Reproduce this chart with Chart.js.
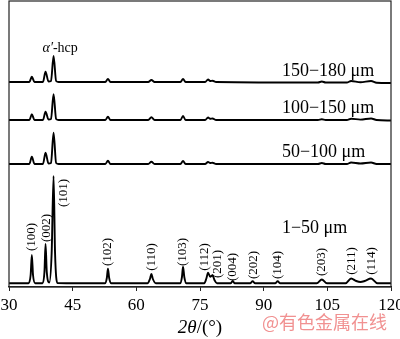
<!DOCTYPE html>
<html>
<head>
<meta charset="utf-8">
<script src="https://cdn.jsdelivr.net/npm/chart.js@4.4.1/dist/chart.umd.min.js"></script>
<style>
html,body{margin:0;padding:0;background:#fff;}
#wrap{width:400px;height:339px;position:relative;}
</style>
</head>
<body>
<div id="wrap"><canvas id="c" width="400" height="339"></canvas></div>
<script>
// ---- data (2θ in degrees, intensity in arbitrary units incl. vertical offset) ----
const xTicks = [30, 45, 60, 75, 90, 105, 120];

const angles_1_50 = [30, 34.6, 35.1, 35.38, 35.66, 36.2, 37.9, 38.35, 38.61, 38.9, 39.5, 40.05, 40.5, 40.85, 41.4,
  52.6, 53.05, 53.31, 53.6, 54.1, 62.6, 63.2, 63.55, 63.9, 64.6, 70.3, 70.75, 71.0, 71.3, 71.8,
  76.0, 76.5, 76.9, 77.4, 77.95, 78.4, 79.0, 82.2, 82.7, 83.2, 86.8, 87.4, 88.0, 92.7, 93.3, 93.9,
  102.5, 103.7, 104.9, 109.3, 110.6, 111.8, 112.8, 113.8, 115.3, 116.8, 120];
const inten_1_50 = [3.7, 3.7, 12, 32, 12, 3.7, 3.7, 15, 43, 15, 4.5, 34, 111, 34, 4,
  3.7, 9, 18.3, 9, 3.7, 3.7, 8, 13, 8, 3.7, 3.7, 10, 20.3, 10, 3.7,
  3.7, 8.5, 14.3, 10.3, 11.7, 7, 3.7, 3.7, 6, 3.7, 3.7, 5.7, 3.7, 3.7, 5.7, 3.7,
  3.7, 7.5, 3.7, 3.7, 8.5, 6, 5, 6, 8.5, 3.7, 3.7];

const angles_50_100 = [30, 34.8, 35.38, 36.0, 38.0, 38.61, 39.3, 39.9, 40.5, 41.1, 41.7,
  52.7, 53.31, 53.9, 62.8, 63.55, 64.3, 70.4, 71.0, 71.6, 76.2, 76.9, 77.4, 77.95, 78.8,
  102.8, 103.7, 104.6, 109.6, 110.6, 112.8, 115.3, 116.6, 120];
const inten_50_100 = [123, 123, 130.3, 123, 123, 134.3, 123.5, 124, 154.3, 124, 123,
  123, 126.3, 123, 123, 125.3, 123, 123, 126, 123, 123, 125, 124, 124.3, 123,
  123, 124, 123, 123, 124.5, 123.5, 124.5, 123, 123];

const angles_100_150 = [30, 34.8, 35.38, 36.0, 38.0, 38.61, 39.3, 39.9, 40.5, 41.1, 41.7,
  52.7, 53.31, 53.9, 62.8, 63.55, 64.3, 70.4, 71.0, 71.6, 76.2, 76.9, 77.4, 77.95, 78.8,
  102.8, 103.7, 104.6, 109.6, 110.6, 112.8, 115.3, 116.6, 120];
const inten_100_150 = [167, 167, 172.7, 167, 167, 175.3, 167.5, 168, 192.7, 168, 167,
  167, 170.3, 167, 167, 169.7, 167, 167, 171, 167, 167, 169.5, 168.2, 168.5, 167,
  167, 167.8, 167, 167, 168.3, 167.4, 168.5, 167, 166.5];

const angles_150_180 = [30, 34.8, 35.38, 36.0, 38.0, 38.61, 39.3, 39.9, 40.5, 41.1, 41.7,
  52.7, 53.31, 53.9, 62.8, 63.55, 64.3, 70.4, 71.0, 71.6, 76.2, 76.9, 77.4, 77.95, 78.8,
  102.8, 103.7, 104.6, 109.6, 110.6, 112.8, 115.3, 116.6, 120];
const inten_150_180 = [205, 205, 210.3, 205, 205, 215.3, 205.5, 206, 231, 206, 205,
  205, 208, 205, 205, 207, 205, 205, 208, 205, 205, 207.5, 206, 206.3, 205,
  204.5, 205.5, 204.5, 204.5, 206, 204.8, 206, 204.3, 204];

// sample labels: text, 2θ, intensity of baseline
const sampleLabels = ['150\u2212180 \u03bcm', '100\u2212150 \u03bcm', '50\u2212100 \u03bcm', '1\u221250 \u03bcm'];
const sampleLabelAngle = [94.3, 94.3, 94.3, 94.3];
const sampleLabelLevel = [211, 174, 130, 54];

// reflection labels (hkl), 2θ position and vertical centre
const hklLabels = ['(100)', '(002)', '(101)', '(102)', '(110)', '(103)', '(112)', '(201)', '(004)', '(202)', '(104)', '(203)', '(211)', '(114)'];
const hklAngle = [35.3, 38.85, 42.9, 53.25, 63.6, 70.9, 76.1, 79.2, 82.7, 87.7, 93.3, 103.7, 110.8, 115.5];
const hklLevel = [50, 59, 94, 35, 30, 35, 30, 23, 20, 22, 22, 25, 26, 26];

function pts(a, b) { return a.map((v, i) => ({ x: v, y: b[i] })); }

const serif = "'Liberation Serif','Times New Roman',serif";

const framePlugin = {
  id: 'frame',
  afterDraw(chart) {
    const { ctx, chartArea: a, scales } = chart;
    const xs = scales.x, ys = scales.y;
    ctx.save();
    ctx.strokeStyle = '#222';
    ctx.lineWidth = 1.2;
    ctx.strokeRect(a.left, a.top, a.right - a.left, a.bottom - a.top);

    ctx.fillStyle = '#000';
    // sample labels
    ctx.font = '18px ' + serif;
    ctx.textAlign = 'left';
    ctx.textBaseline = 'alphabetic';
    sampleLabels.forEach((t, i) => {
      ctx.fillText(t, xs.getPixelForValue(sampleLabelAngle[i]), ys.getPixelForValue(sampleLabelLevel[i]));
    });

    // alpha'-hcp
    const ax = xs.getPixelForValue(37.9), ay = ys.getPixelForValue(235);
    ctx.font = 'italic 14px ' + serif;
    ctx.fillText('\u03b1\u2032', ax, ay);
    const w1 = ctx.measureText('\u03b1\u2032').width;
    ctx.font = '14px ' + serif;
    ctx.fillText('-hcp', ax + w1, ay);

    // hkl labels rotated
    ctx.font = '13px ' + serif;
    ctx.textAlign = 'center';
    ctx.textBaseline = 'middle';
    hklLabels.forEach((t, i) => {
      ctx.save();
      ctx.translate(xs.getPixelForValue(hklAngle[i]), ys.getPixelForValue(hklLevel[i]));
      ctx.rotate(-Math.PI / 2);
      ctx.fillText(t, 0, 0);
      ctx.restore();
    });

    // axis title 2θ/(°)
    ctx.textBaseline = 'alphabetic';
    ctx.textAlign = 'left';
    ctx.font = 'italic 19px ' + serif;
    const p1 = '2\u03b8';
    const p1w = ctx.measureText(p1).width;
    ctx.font = '19px ' + serif;
    const p2 = '/(\u00b0)';
    const p2w = ctx.measureText(p2).width;
    const cx = (a.left + a.right) / 2 - (p1w + p2w) / 2;
    ctx.font = 'italic 19px ' + serif;
    ctx.fillText(p1, cx, 333);
    ctx.font = '19px ' + serif;
    ctx.fillText(p2, cx + p1w, 333);

    // watermark
    ctx.font = "18px 'Noto Sans CJK SC', sans-serif";
    ctx.fillStyle = '#f19191';
    ctx.fillText('@有色金属在线', 262, 329);
    ctx.restore();
  }
};

function lineDs(a, b) {
  return {
    data: pts(a, b),
    borderColor: '#000',
    borderWidth: 1.9,
    pointRadius: 0,
    fill: false,
    cubicInterpolationMode: 'monotone'
  };
}

new Chart(document.getElementById('c'), {
  type: 'line',
  data: {
    datasets: [
      lineDs(angles_150_180, inten_150_180),
      lineDs(angles_100_150, inten_100_150),
      lineDs(angles_50_100, inten_50_100),
      lineDs(angles_1_50, inten_1_50)
    ]
  },
  options: {
    responsive: false,
    animation: false,
    events: [],
    layout: { padding: { left: 9, right: 9, top: 1, bottom: 0 } },
    plugins: { legend: { display: false }, tooltip: { enabled: false } },
    scales: {
      x: {
        type: 'linear',
        min: xTicks[0],
        max: xTicks[xTicks.length - 1],
        afterBuildTicks: s => { s.ticks = xTicks.map(v => ({ value: v })); },
        afterFit: s => { s.height = 52; s.paddingLeft = 0; s.paddingRight = 0; },
        ticks: { autoSkip: false, maxRotation: 0, color: '#000', padding: 4, font: { family: serif, size: 17 } },
        grid: { display: true, drawOnChartArea: false, drawTicks: true, tickLength: 4, color: '#222', lineWidth: 1 },
        border: { display: true, color: '#222', width: 1.2 }
      },
      y: {
        display: false,
        min: 0,
        max: 286
      }
    }
  },
  plugins: [framePlugin]
});
</script>
</body>
</html>
